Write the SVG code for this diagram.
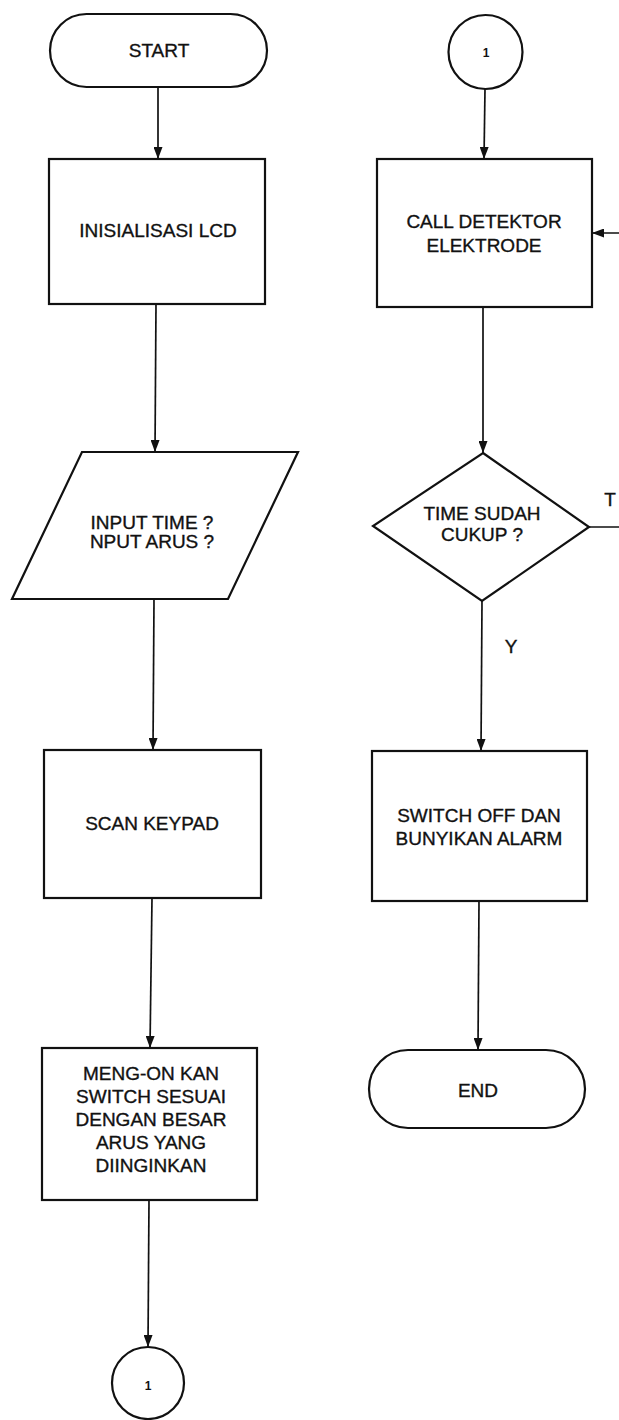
<svg xmlns="http://www.w3.org/2000/svg" width="619" height="1420" viewBox="0 0 619 1420">
  <style>
    .shape { fill: #ffffff; stroke: #111111; stroke-width: 2.2; }
    .flow { fill: none; stroke: #111111; stroke-width: 1.7; }
    .lbl { font-family: "Liberation Sans", Arial, sans-serif; font-size: 19px; fill: #111111; stroke: #111111; stroke-width: 0.35; text-anchor: middle; }
    .num { font-family: "Liberation Sans", Arial, sans-serif; font-size: 12px; font-weight: bold; fill: #111111; text-anchor: middle; }
  </style>
  <defs>
    <marker id="arrow" viewBox="0 0 12 9" refX="12" refY="4.5" markerWidth="12" markerHeight="9" markerUnits="userSpaceOnUse" orient="auto">
      <path d="M0,0 L12,4.5 L0,9 z" fill="#111111"/>
    </marker>
  </defs>
  <rect width="619" height="1420" fill="#ffffff"/>

  <!-- connectors -->
  <g id="connectors">
    <line class="flow" x1="158" y1="87" x2="158" y2="159" marker-end="url(#arrow)"/>
    <line class="flow" x1="156" y1="304" x2="155" y2="452" marker-end="url(#arrow)"/>
    <line class="flow" x1="154" y1="599" x2="153" y2="750" marker-end="url(#arrow)"/>
    <line class="flow" x1="152" y1="898" x2="150" y2="1048" marker-end="url(#arrow)"/>
    <line class="flow" x1="149" y1="1200" x2="148" y2="1347" marker-end="url(#arrow)"/>
    <line class="flow" x1="485" y1="89" x2="484" y2="159" marker-end="url(#arrow)"/>
    <line class="flow" x1="483" y1="307" x2="483" y2="453" marker-end="url(#arrow)"/>
    <line class="flow" x1="482" y1="601" x2="481" y2="751" marker-end="url(#arrow)"/>
    <line class="flow" x1="479" y1="901" x2="478" y2="1050" marker-end="url(#arrow)"/>
    <!-- "T" branch loops back to the detector call -->
    <path class="flow" d="M589,527 H630 V233 H592" marker-end="url(#arrow)"/>
    <text class="lbl" x="610" y="506">T</text>
    <text class="lbl" x="511" y="653">Y</text>
  </g>

  <!-- left column -->
  <g id="start">
    <rect class="shape" x="50" y="14" width="217" height="73" rx="36.5" ry="36.5"/>
    <text class="lbl" x="159" y="57">START</text>
  </g>
  <g id="init-lcd">
    <rect class="shape" x="49" y="159" width="216" height="145"/>
    <text class="lbl" x="158" y="237">INISIALISASI LCD</text>
  </g>
  <g id="input">
    <polygon class="shape" points="82,452 298,452 228,599 12,599"/>
    <text class="lbl" x="152" y="529">INPUT TIME ?</text>
    <text class="lbl" x="152" y="548">NPUT ARUS ?</text>
  </g>
  <g id="scan-keypad">
    <rect class="shape" x="44" y="750" width="217" height="148"/>
    <text class="lbl" x="152" y="830">SCAN KEYPAD</text>
  </g>
  <g id="switch-on">
    <rect class="shape" x="42" y="1048" width="215" height="152"/>
    <text class="lbl" x="151" y="1080">MENG-ON KAN</text>
    <text class="lbl" x="151" y="1103">SWITCH SESUAI</text>
    <text class="lbl" x="151" y="1126">DENGAN  BESAR</text>
    <text class="lbl" x="151" y="1149">ARUS YANG</text>
    <text class="lbl" x="151" y="1172">DIINGINKAN</text>
  </g>
  <g id="off-page-out">
    <circle class="shape" cx="148" cy="1383" r="36"/>
    <text class="num" x="148" y="1390">1</text>
  </g>

  <!-- right column -->
  <g id="off-page-in">
    <circle class="shape" cx="485.5" cy="52" r="37"/>
    <text class="num" x="486" y="57">1</text>
  </g>
  <g id="call-detector">
    <rect class="shape" x="377" y="159" width="215" height="148"/>
    <text class="lbl" x="484" y="228">CALL DETEKTOR</text>
    <text class="lbl" x="484" y="252">ELEKTRODE</text>
  </g>
  <g id="time-check">
    <polygon class="shape" points="483,453 589,527 482,601 373,526"/>
    <text class="lbl" x="482" y="520">TIME SUDAH</text>
    <text class="lbl" x="482" y="541">CUKUP ?</text>
  </g>
  <g id="switch-off">
    <rect class="shape" x="372" y="751" width="215" height="150"/>
    <text class="lbl" x="479" y="822">SWITCH OFF DAN</text>
    <text class="lbl" x="479" y="845">BUNYIKAN ALARM</text>
  </g>
  <g id="end">
    <rect class="shape" x="369" y="1050" width="216" height="78" rx="39" ry="39"/>
    <text class="lbl" x="478" y="1097">END</text>
  </g>
</svg>
